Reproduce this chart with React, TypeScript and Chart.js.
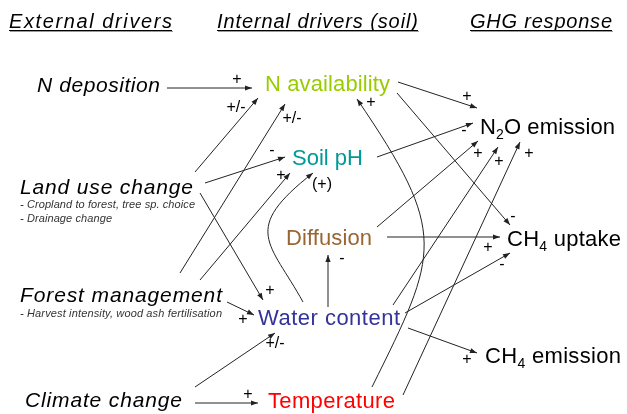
import React, { useEffect, useRef } from "react";
import { Chart, registerables } from "chart.js";

Chart.register(...registerables);

// ---- Text content ----
const headingLabels = ["External drivers", "Internal drivers (soil)", "GHG response"];
const headingX = [9, 217, 470];
const headingY = [28, 28, 28];
const headingW = [163, 201, 142];

const driverLabels = ["N deposition", "Land use change", "Forest management", "Climate change"];
const driverX = [37, 20, 20, 25];
const driverY = [92, 194, 302, 407];
const driverW = [123, 173, 202, 157];
const driverNotes = [
  [],
  ["- Cropland to forest, tree sp. choice", "- Drainage change"],
  ["- Harvest intensity, wood ash fertilisation"],
  [],
];
const driverNoteY = [[], [208, 222], [317], []];
const driverNoteW = [[], [175, 92], [202], []];

const internalLabels = ["N availability", "Soil pH", "Diffusion", "Water content", "Temperature"];
const internalX = [265, 292, 286, 258, 268];
const internalY = [91, 165, 245, 325, 408];
const internalW = [125, 71, 86, 142, 127];
const internalColors = ["#99cc00", "#009999", "#996633", "#333399", "#ff0000"];

// response labels: [main, subscript, rest]
const responseParts = [
  ["N", "2", "O emission"],
  ["CH", "4", " uptake"],
  ["CH", "4", " emission"],
];
const responseX = [480, 507, 485];
const responseY = [134, 246, 363];
const responseW = [135, 114, 136];

// ---- Straight arrows: tail (x1,y1) -> tip (x2,y2) ----
const arrowX1 = [167, 195, 180, 205, 200, 200, 227, 195, 195, 328, 403, 393, 377, 377, 398, 397, 387, 405, 408];
const arrowY1 = [88, 172, 273, 183, 280, 193, 302, 387, 403, 307, 395, 305, 227, 157, 82, 93, 237, 313, 328];
const arrowX2 = [252, 258, 285, 285, 290, 263, 254, 275, 258, 328, 520, 498, 478, 473, 477, 510, 500, 510, 477];
const arrowY2 = [88, 98, 104, 157, 173, 300, 315, 333, 403, 255, 142, 147, 141, 123, 108, 225, 237, 253, 353];

// ---- Curved arrows (cubic): start, control1, control2, tip ----
const curveSX = [303, 372];
const curveSY = [302, 387];
const curveC1X = [270, 439];
const curveC1Y = [242, 252];
const curveC2X = [240, 449];
const curveC2Y = [230, 234];
const curveEX = [313, 357];
const curveEY = [173, 99];

// ---- Sign labels ----
const signText = ["+", "+/-", "+/-", "-", "+", "(+)", "+", "+", "+/-", "+", "-", "+", "+", "-", "+", "+", "+", "-", "+", "-", "+"];
const signX = [237, 236, 292, 272, 281, 322, 270, 243, 275, 248, 342, 371, 467, 464, 478, 499, 529, 513, 488, 502, 467];
const signY = [80, 108, 119, 151, 176, 185, 291, 320, 344, 395, 259, 103, 97, 131, 154, 162, 154, 217, 248, 265, 360];

const FONT = "'Liberation Sans', Arial, sans-serif";
const LINE = "#222222";

function fitText(ctx: any, text: string, x: number, y: number, w: number) {
  ctx.letterSpacing = "0px";
  const m = ctx.measureText(text).width;
  const n = Math.max(1, text.length - 1);
  const ls = (w - m) / n;
  ctx.letterSpacing = `${ls}px`;
  ctx.fillText(text, x, y);
  ctx.letterSpacing = "0px";
}

export default function App() {
  const ref = useRef<HTMLCanvasElement | null>(null);

  useEffect(() => {
    document.body.style.margin = "0";
    const canvas = ref.current;
    if (!canvas) return;

    const datasets: any[] = arrowX1.map((_, i) => ({
      data: [
        { x: arrowX1[i], y: arrowY1[i] },
        { x: arrowX2[i], y: arrowY2[i] },
      ],
      showLine: true,
      borderColor: LINE,
      borderWidth: 1,
      pointRadius: 0,
      pointHoverRadius: 0,
      fill: false,
    }));

    const drawHead = (ctx: CanvasRenderingContext2D, fx: number, fy: number, tx: number, ty: number) => {
      const ang = Math.atan2(ty - fy, tx - fx);
      const len = 7;
      const w = 2.6;
      ctx.save();
      ctx.translate(tx, ty);
      ctx.rotate(ang);
      ctx.beginPath();
      ctx.moveTo(0, 0);
      ctx.lineTo(-len, -w);
      ctx.lineTo(-len, w);
      ctx.closePath();
      ctx.fillStyle = LINE;
      ctx.fill();
      ctx.restore();
    };

    const diagram = {
      id: "diagram",
      afterDatasetsDraw(chart: any) {
        const ctx: any = chart.ctx;
        const xs = chart.scales.x;
        const ys = chart.scales.y;
        const X = (v: number) => xs.getPixelForValue(v);
        const Y = (v: number) => ys.getPixelForValue(v);

        for (let i = 0; i < arrowX1.length; i++) {
          drawHead(ctx, X(arrowX1[i]), Y(arrowY1[i]), X(arrowX2[i]), Y(arrowY2[i]));
        }
        for (let i = 0; i < curveSX.length; i++) {
          ctx.save();
          ctx.beginPath();
          ctx.moveTo(X(curveSX[i]), Y(curveSY[i]));
          ctx.bezierCurveTo(
            X(curveC1X[i]), Y(curveC1Y[i]),
            X(curveC2X[i]), Y(curveC2Y[i]),
            X(curveEX[i]), Y(curveEY[i])
          );
          ctx.strokeStyle = LINE;
          ctx.lineWidth = 1;
          ctx.stroke();
          ctx.restore();
          drawHead(ctx, X(curveC2X[i]), Y(curveC2Y[i]), X(curveEX[i]), Y(curveEY[i]));
        }

        ctx.save();
        ctx.textAlign = "left";
        ctx.textBaseline = "alphabetic";

        // headings
        ctx.font = `italic 20px ${FONT}`;
        headingLabels.forEach((t, i) => {
          const x = X(headingX[i]);
          const y = Y(headingY[i]);
          ctx.fillStyle = "#000";
          fitText(ctx, t, x, y, headingW[i]);
          const w = headingW[i];
          ctx.fillStyle = "#000";
          ctx.fillRect(x, y + 2, w, 1);
          ctx.fillStyle = "#9a9a9a";
          ctx.fillRect(x + 1, y + 3, w, 1);
        });

        // drivers
        driverLabels.forEach((t, i) => {
          ctx.font = `italic 21px ${FONT}`;
          ctx.fillStyle = "#000";
          fitText(ctx, t, X(driverX[i]), Y(driverY[i]), driverW[i]);
          ctx.font = `italic 11px ${FONT}`;
          ctx.fillStyle = "#333";
          driverNotes[i].forEach((n, j) => {
            fitText(ctx, n, X(driverX[i]), Y(driverNoteY[i][j]), driverNoteW[i][j]);
          });
        });

        // internal
        ctx.font = `22px ${FONT}`;
        internalLabels.forEach((t, i) => {
          ctx.fillStyle = internalColors[i];
          fitText(ctx, t, X(internalX[i]), Y(internalY[i]), internalW[i]);
        });

        // responses with subscripts
        ctx.fillStyle = "#000";
        responseParts.forEach((p, i) => {
          ctx.letterSpacing = "0px";
          ctx.font = `22px ${FONT}`;
          const w0 = ctx.measureText(p[0]).width;
          const w2 = ctx.measureText(p[2]).width;
          ctx.font = `14px ${FONT}`;
          const w1 = ctx.measureText(p[1]).width;
          const nChars = p[0].length + p[1].length + p[2].length - 1;
          const ls = (responseW[i] - (w0 + w1 + w2)) / nChars;
          let x = X(responseX[i]);
          const y = Y(responseY[i]);
          ctx.letterSpacing = `${ls}px`;
          ctx.font = `22px ${FONT}`;
          ctx.fillText(p[0], x, y);
          x += w0 + ls * p[0].length;
          ctx.font = `14px ${FONT}`;
          ctx.fillText(p[1], x, y + 5);
          x += w1 + ls * p[1].length;
          ctx.font = `22px ${FONT}`;
          ctx.fillText(p[2], x, y);
          ctx.letterSpacing = "0px";
        });

        // signs
        ctx.font = `16px ${FONT}`;
        ctx.textAlign = "center";
        ctx.textBaseline = "middle";
        ctx.fillStyle = "#000";
        signText.forEach((t, i) => {
          ctx.fillText(t, X(signX[i]), Y(signY[i]));
        });
        ctx.restore();
      },
    };

    const chart = new Chart(canvas, {
      type: "scatter",
      data: { datasets },
      options: {
        animation: false,
        responsive: false,
        maintainAspectRatio: false,
        layout: { padding: 0 },
        events: [],
        scales: {
          x: { type: "linear", min: 0, max: 627, display: false },
          y: { type: "linear", min: 0, max: 414, reverse: true, display: false },
        },
        plugins: { legend: { display: false }, tooltip: { enabled: false } },
      },
      plugins: [diagram],
    });
    return () => chart.destroy();
  }, []);

  return (
    <div style={{ width: 627, height: 414, background: "#fff" }}>
      <canvas ref={ref} width={627} height={414} style={{ display: "block" }} />
    </div>
  );
}
